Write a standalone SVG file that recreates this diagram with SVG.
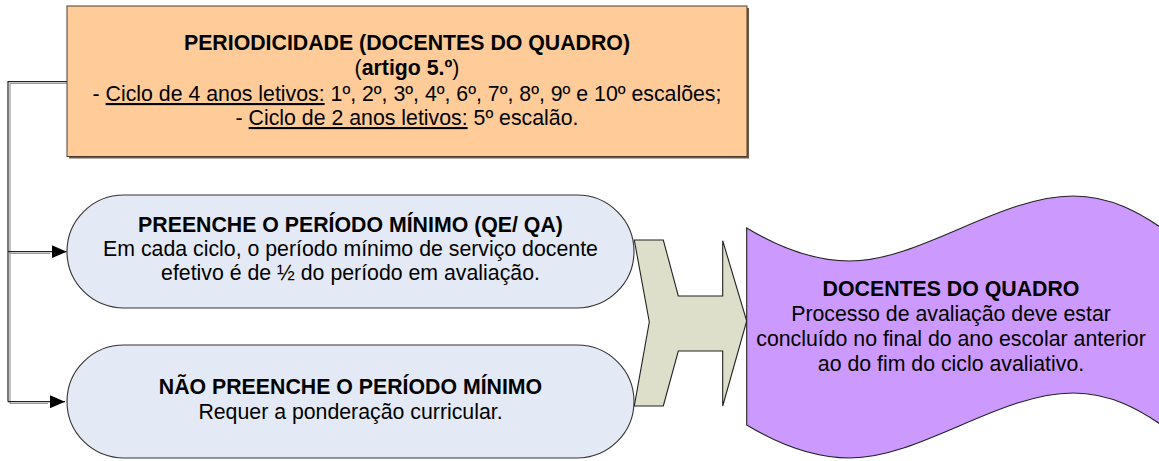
<svg xmlns="http://www.w3.org/2000/svg" width="1159" height="461" viewBox="0 0 1159 461">
<defs>
<style>
text{font-family:"Liberation Sans",Arial,sans-serif;font-size:21.3px;fill:#000;text-anchor:middle}
.b{font-weight:bold}
.u{text-decoration:underline}
.conn{fill:none;stroke:#222;stroke-width:1.2}
.connsh{fill:none;stroke:#9a9a9a;stroke-width:1.2}
.ell{fill:#E4EAF5;stroke:#333;stroke-width:1.1}
</style>
<marker id="arr" viewBox="0 0 15 13" refX="15" refY="6.5" markerWidth="15" markerHeight="13" markerUnits="userSpaceOnUse" orient="auto">
<path d="M0,0 L15,6.5 L0,13 Z" fill="#000"/>
</marker>
</defs>
<rect width="1159" height="461" fill="#fff"/>

<g id="connectors">
<path class="connsh" d="M67,83.5 H10 V403.5 M10,253.5 H50 M10,403.5 H48"/>
<path class="conn" d="M67,81.7 H8 V401.7"/>
<path class="conn" d="M8,251.7 H66.7" marker-end="url(#arr)"/>
<path class="conn" d="M8,401.7 H65" marker-end="url(#arr)"/>
</g>

<g id="chevron">
<polygon points="634.3,240 663.3,240 678.3,296 722.7,296 722.7,240.7 746.7,321 722.7,406 722.7,351 678.3,351 663.3,406 634.3,406 649.3,322" fill="#DDDFCB" stroke="#222" stroke-width="1.1"/>
</g>

<g id="periodicidade">
<rect x="69" y="8" width="680" height="150.5" fill="#6e5a47"/>
<rect x="67" y="6" width="680" height="150.5" fill="#FFCC99" stroke="#4a3d30" stroke-width="1"/>
<text x="407" y="50" class="b">PERIODICIDADE (DOCENTES DO QUADRO)</text>
<text x="407" y="75">(<tspan class="b">artigo 5.º</tspan>)</text>
<text x="407" y="101">- <tspan class="u">Ciclo de 4 anos letivos:</tspan> 1º, 2º, 3º, 4º, 6º, 7º, 8º, 9º e 10º escalões;</text>
<text x="407" y="125">- <tspan class="u">Ciclo de 2 anos letivos:</tspan> 5º escalão.</text>
</g>

<g id="preenche">
<path class="ell" d="M124,195 H577 A57 56.5 0 0 1 577,308 H124 A57 56.5 0 0 1 124,195 Z"/>
<text x="350.5" y="232" class="b">PREENCHE O PERÍODO MÍNIMO (QE/ QA)</text>
<text x="350.5" y="256">Em cada ciclo, o período mínimo de serviço docente</text>
<text x="350.5" y="280">efetivo é de ½ do período em avaliação.</text>
</g>

<g id="nao-preenche">
<path class="ell" d="M124,345 H577 A57 56.5 0 0 1 577,458 H124 A57 56.5 0 0 1 124,345 Z"/>
<text x="350.5" y="394" class="b">NÃO PREENCHE O PERÍODO MÍNIMO</text>
<text x="350.5" y="419">Requer a ponderação curricular.</text>
</g>

<g id="docentes-quadro">
<path d="M746.7,228 C780,248 815,261 850,261 C920,261 1000,196 1073,196 C1110,196 1140,212 1170,234 L1170,431 C1140,409 1110,393 1073,393 C1000,393 920,458 850,458 C815,458 780,445 746.7,425 Z" fill="#CC99FF" stroke="#222" stroke-width="1.1"/>
<text x="951" y="296" class="b">DOCENTES DO QUADRO</text>
<text x="951" y="321">Processo de avaliação deve estar</text>
<text x="951" y="346">concluído no final do ano escolar anterior</text>
<text x="951" y="371">ao do fim do ciclo avaliativo.</text>
</g>
</svg>
